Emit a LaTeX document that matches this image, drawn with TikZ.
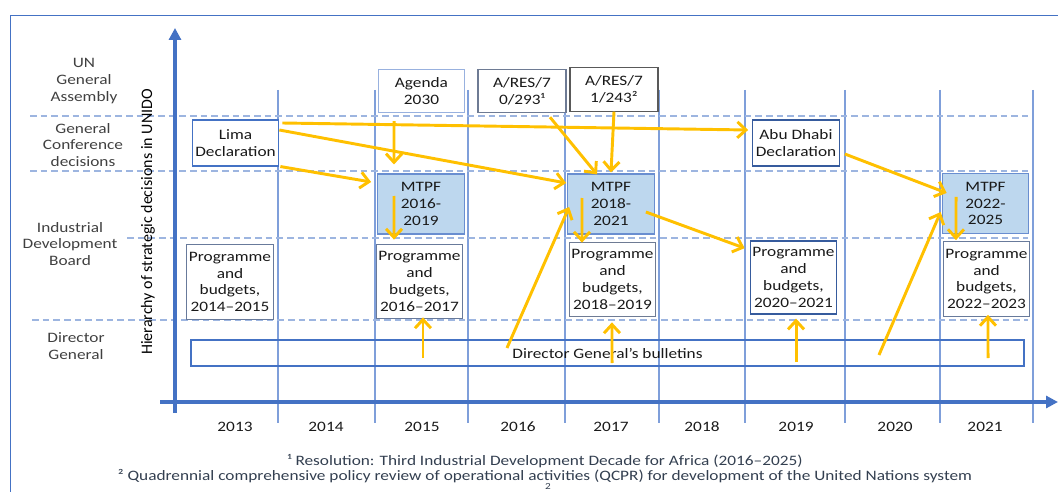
\documentclass[tikz,border=0pt]{standalone}
\usepackage{fontspec}
\setmainfont{Carlito}[FakeStretch=1.2]
\newfontfamily\axisfont{Carlito}
\usetikzlibrary{arrows.meta}
\definecolor{axisblue}{HTML}{4472C4}
\definecolor{gridblue}{HTML}{7F9FDA}
\definecolor{dashblue}{HTML}{9DB5E0}
\definecolor{mtpffill}{HTML}{BDD7EE}
\definecolor{flowgold}{HTML}{FFC000}
\definecolor{labelgray}{HTML}{404040}
\definecolor{notecol}{HTML}{333F50}
\begin{document}
\begin{tikzpicture}[x=0.75pt,y=-0.75pt,
  txt/.style={font=\fontsize{10.8}{12.6}\selectfont, text=black!90, align=center},
  box/.style={txt, draw, fill=white, line width=0.8pt, inner sep=0pt, minimum width=65pt},
  declbox/.style={box, minimum height=34.5pt},
  resbox/.style={box, minimum height=32.5pt},
  mtpfbox/.style={box, draw=axisblue!80, fill=mtpffill, minimum height=45pt},
  pbbox/.style={box, minimum height=56pt},
  rowlabel/.style={txt, text=labelgray},
  notetxt/.style={txt, text=notecol, font=\fontsize{10.8}{12}\selectfont},
  flow/.style={flowgold, line width=2.2pt, -{Straight Barb[length=6.5pt,width=12pt]}},
  griddash/.style={dashblue, line width=0.8pt, dash pattern=on 5pt off 3pt}]
\useasboundingbox (0,0) rectangle (1058,492);
% frame and grid
\draw[axisblue, line width=0.6pt] (10,492) -- (10,15) -- (1058,15);
\foreach \x in {278,375,468,565,659,745,845,940,1033}
	\draw[gridblue, line width=0.8pt] (\x,90) -- (\x,423);
\draw[griddash] (30,116) -- (1028,116);
\draw[griddash] (30,171) -- (1028,171);
\draw[griddash] (127,238) -- (1028,238);
\draw[griddash] (32,320) -- (1028,320);
\draw[axisblue, line width=2.3pt, -{Triangle[length=9pt,width=9pt]}] (175,413) -- (175,28);
\draw[axisblue, line width=2.3pt, -{Triangle[length=9pt,width=9pt]}] (160,402) -- (1058,402);
\foreach \x/\yr in {235/2013,326/2014,422/2015,518/2016,611/2017,702/2018,796/2019,895/2020,985/2021}
	\node[txt] (yr\yr) at (\x,427) {\yr};
% row labels
\node[rowlabel] (rowun) at (84,81) {UN\\General\\Assembly};
\node[rowlabel] (rowgc) at (83,145) {General\\Conference\\decisions};
\node[rowlabel] (rowidb) at (70,244) {Industrial\\Development\\Board};
\node[rowlabel] (rowdg) at (76,346) {Director\\General};
\node[rotate=90, font=\axisfont\fontsize{12}{14}\selectfont] (hier) at (148,222) {Hierarchy of strategic decisions in UNIDO};
% boxes
\node[declbox, draw=axisblue] (lima) at (235.5,143) {Lima\\Declaration};
\node[declbox, draw=axisblue!80!black] (abu) at (796,143) {Abu Dhabi\\Declaration};
\node[resbox, draw=axisblue!55] (agenda) at (421.5,91) {Agenda\\2030};
\node[resbox, draw=gray!70!axisblue, minimum width=66pt] (res70) at (522,91) {A/RES/7\\0/293¹};
\node[resbox, draw=black!65, minimum width=66pt] (res71) at (614,89.5) {A/RES/7\\1/243²};
\node[mtpfbox] (mtpf16) at (421,204) {MTPF\\2016-\\2019};
\node[mtpfbox] (mtpf18) at (611,204) {MTPF\\2018-\\2021};
\node[mtpfbox] (mtpf22) at (985.5,203.5) {MTPF\\2022-\\2025};
\node[pbbox, draw=gray!60!axisblue] (pb14) at (230,282) {Programme\\and\\budgets,\\2014--2015};
\node[pbbox, draw=gray!60!axisblue] (pb16) at (419.5,281.5) {Programme\\and\\budgets,\\2016--2017};
\node[pbbox, draw=gray!70!axisblue] (pb18) at (612.5,279.5) {Programme\\and\\budgets,\\2018--2019};
\node[pbbox, draw=axisblue!80!black, minimum height=54.75pt] (pb20) at (793.5,277.5) {Programme\\and\\budgets,\\2020--2021};
\node[pbbox, draw=gray!60!axisblue] (pb22) at (986.5,279) {Programme\\and\\budgets,\\2022--2023};
\node[box, draw=axisblue, fill=none, minimum width=624.75pt, minimum height=19.5pt] (bull) at (607.5,353) {Director General’s bulletins};
% flows
\draw[flow] ([xshift=2.25pt,yshift=15pt]lima.east) -- ([xshift=-3pt,yshift=9.75pt]abu.west);
\draw[flow] ([yshift=9.75pt]lima.east) -- ([xshift=-0.75pt,yshift=15.75pt]mtpf18.west);
\draw[flow] ([xshift=0.75pt]lima.south east) -- ([xshift=-4.5pt,yshift=16.5pt]mtpf16.west);
\draw[flow] ([xshift=-20.6pt,yshift=-6pt]agenda.south) -- ([xshift=-20.25pt,yshift=6.75pt]mtpf16.north);
\draw[flow] ([xshift=-20.25pt,yshift=6pt]mtpf16.center) -- ([xshift=-19.1pt,yshift=3pt]pb16.north);
\draw[flow] ([xshift=21pt,yshift=-3pt]res70.south) -- ([xshift=-10.5pt,yshift=-0.75pt]mtpf18.north);
\draw[flow] (res71.south) -- ([yshift=0.75pt]mtpf18.north);
\draw[flow] ([xshift=-21.75pt,yshift=4.5pt]mtpf18.center) -- ([xshift=-22.9pt,yshift=-0.75pt]pb18.north);
\draw[flow] ([xshift=-6.75pt,yshift=-6pt]mtpf18.east) -- ([xshift=-3.75pt,yshift=22pt]pb20.west);
\draw[flow] ([xshift=-75.4pt,yshift=3.75pt]bull.center) -- ([xshift=1.5pt,yshift=-2.25pt]mtpf18.west);
\draw[flow] ([xshift=3.75pt,yshift=-8.25pt]abu.east) -- ([xshift=3.75pt,yshift=7.9pt]mtpf22.west);
\draw[flow] ([xshift=203.6pt,yshift=-1.5pt]bull.center) -- ([xshift=-0.75pt,yshift=-6.4pt]mtpf22.west);
\draw[flow] ([xshift=-22.1pt,yshift=4.9pt]mtpf22.center) -- ([xshift=-22.9pt,yshift=0.75pt]pb22.north);
\draw[flow] ([xshift=-138.4pt,yshift=-3.75pt]bull.center) -- ([xshift=2.6pt,yshift=1.5pt]pb16.south);
\draw[flow] ([xshift=3.4pt,yshift=-7.5pt]bull.center) -- ([xshift=-0.4pt,yshift=-3.75pt]pb18.south);
\draw[flow] ([xshift=141.4pt,yshift=-6.75pt]bull.center) -- ([xshift=1.9pt,yshift=-3pt]pb20.south);
\draw[flow] ([xshift=285.4pt,yshift=-3.75pt]bull.center) -- ([xshift=1.1pt,yshift=1.5pt]pb22.south);
% footnotes
\node[notetxt] (note1) at (545,461) {¹ Resolution: Third Industrial Development Decade for Africa (2016–2025)};
\node[notetxt] (note2) at (545,476) {² Quadrennial comprehensive policy review of operational activities (QCPR) for development of the United Nations system};
\node[notetxt, font=\fontsize{7}{8}\selectfont] (note3) at (548,486) {2};
\end{tikzpicture}
\end{document}
